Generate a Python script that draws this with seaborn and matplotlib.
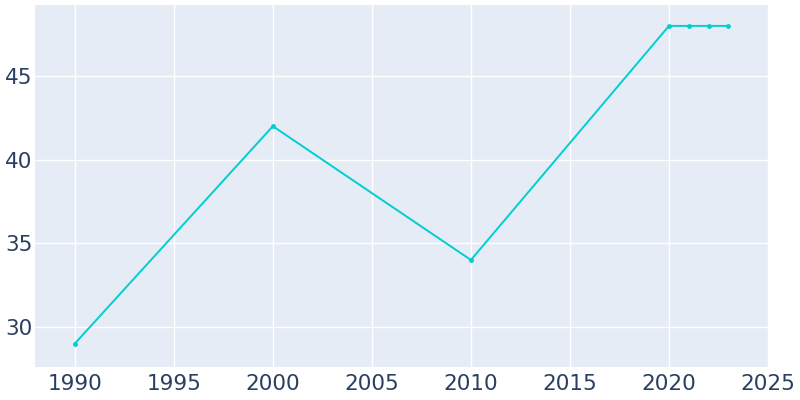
import numpy as np
import pandas as pd
from matplotlib import pyplot as plt
import seaborn as sns

# Values
years = [1990, 2000, 2010, 2020, 2021, 2022, 2023]
population = [29, 42, 34, 48, 48, 48, 48]

x_ticks = [1990, 1995, 2000, 2005, 2010, 2015, 2020, 2025]
y_ticks = [30, 35, 40, 45]

df = pd.DataFrame({'Year': years, 'Population': population})

sns.set_style('darkgrid', {
    'axes.facecolor': '#E5ECF6',
    'grid.color': 'white',
    'axes.edgecolor': '#E5ECF6',
})
plt.rcParams['font.family'] = ['DejaVu Sans']

fig = plt.figure(figsize=(8, 4), dpi=100)
ax = fig.add_axes([0.044, 0.0825, 0.916, 0.905])

sns.lineplot(x='Year', y='Population', data=df, ax=ax, color='#00CED1',
             linewidth=1.4, marker='o', markersize=3.5, markeredgewidth=0)

ax.set_xlim(1988, 2025)
ax.set_ylim(27.6, 49.25)
ax.set_xticks(x_ticks)
ax.set_yticks(y_ticks)
ax.grid(True, color='white', linewidth=1)
ax.set_xlabel('')
ax.set_ylabel('')
ax.tick_params(axis='both', labelsize=15.5, colors='#2a3f5f', length=0)
ax.tick_params(axis='x', pad=5)
ax.tick_params(axis='y', pad=2)
for spine in ax.spines.values():
    spine.set_visible(False)

fig.savefig('out.png', dpi=100)
